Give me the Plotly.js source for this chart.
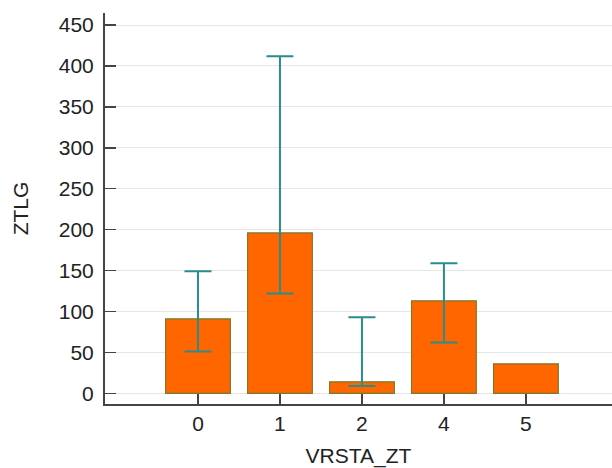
<!DOCTYPE html>
<html>
<head>
<meta charset="utf-8">
<script src="https://cdn.plot.ly/plotly-3.0.1.min.js"></script>
<style>html,body{margin:0;padding:0;background:#fff;}#chart{width:612px;height:468px;}</style>
</head>
<body>
<div id="chart"></div>
<script>
var categories = ["0", "1", "2", "4", "5"];
var meanValues = [91, 196, 14, 113, 36];
var upperValues = [149, 412, 93, 159, null];
var lowerValues = [51, 122, 9, 62, null];

var plusErr = meanValues.map(function (m, i) { return upperValues[i] === null ? NaN : upperValues[i] - m; });
var minusErr = meanValues.map(function (m, i) { return lowerValues[i] === null ? NaN : m - lowerValues[i]; });

var trace = {
  type: 'bar',
  x: categories,
  y: meanValues,
  width: 0.79,
  marker: { color: '#FF6600', line: { color: '#7a7a2a', width: 1.2 } },
  error_y: {
    type: 'data', symmetric: false,
    array: plusErr, arrayminus: minusErr,
    color: '#2a8c8c', thickness: 2, width: 13.5, visible: true
  },
  hoverinfo: 'none'
};

var axisFont = { family: 'Liberation Sans, Arial, sans-serif', size: 21, color: '#222' };

var layout = {
  width: 612, height: 468,
  margin: { l: 105, r: 0, t: 13, b: 64, pad: 0 },
  paper_bgcolor: '#fff', plot_bgcolor: '#fff',
  showlegend: false,
  font: axisFont,
  xaxis: {
    type: 'category',
    range: [-1.134, 5.05],
    showgrid: false,
    showline: true, linecolor: '#444', linewidth: 2,
    ticks: 'inside', ticklen: 10, tickwidth: 1.5, tickcolor: '#444',
    tickfont: axisFont,
    ticklabelstandoff: 0,
    title: { text: 'VRSTA_ZT', font: axisFont, standoff: 16 },
    zeroline: false
  },
  yaxis: {
    range: [-13.1, 464.7],
    tickvals: [0, 50, 100, 150, 200, 250, 300, 350, 400, 450],
    showgrid: true, gridcolor: '#e6e6e6', gridwidth: 1,
    showline: true, linecolor: '#444', linewidth: 2,
    ticks: 'inside', ticklen: 11, tickwidth: 1.5, tickcolor: '#444',
    tickfont: axisFont,
    ticklabelstandoff: 5,
    title: { text: 'ZTLG', font: axisFont, standoff: 24 },
    zeroline: false
  }
};

Plotly.newPlot('chart', [trace], layout, { staticPlot: true });
</script>
</body>
</html>
